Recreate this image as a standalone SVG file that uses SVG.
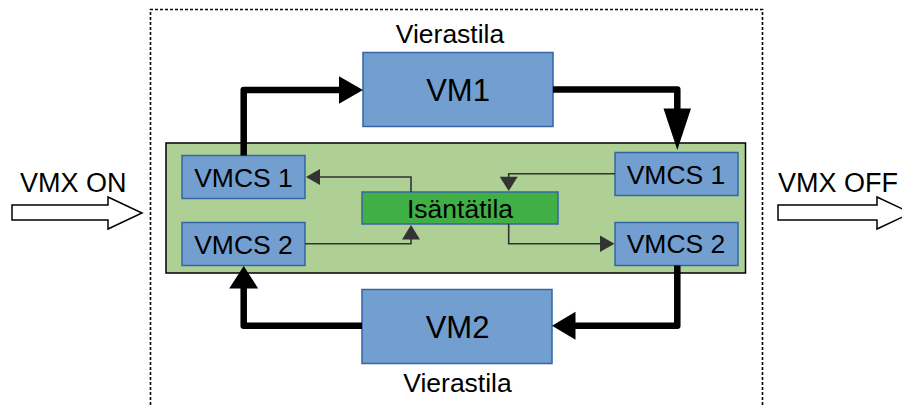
<svg xmlns="http://www.w3.org/2000/svg" width="902" height="407" viewBox="0 0 902 407">
  <style>
    text { font-family: "Liberation Sans", Arial, sans-serif; fill: #000; }
    .lbl { font-size: 26.5px; }
    .ext { font-size: 27px; }
    .big { font-size: 31px; }
    .vm { fill: #729fcf; stroke: #3465a4; stroke-width: 1.5; }
    .host { fill: #3faf46; stroke: #3465a4; stroke-width: 1.5; }
    .thick { fill: none; stroke: #000; stroke-width: 6.5; stroke-linejoin: round; }
    .thin { fill: none; stroke: #333; stroke-width: 1.6; }
    .head { fill: #000; }
    .thinhead { fill: #333; }
    .bigarrow { fill: #fff; stroke: #000; stroke-width: 1.5; }
  </style>

  <!-- VMX operation boundary -->
  <path d="M150.5,420 V9.5 H762.5 V420" fill="none" stroke="#000" stroke-width="1.6" stroke-dasharray="3 2"/>

  <!-- Enter / leave arrows -->
  <g id="vmx-on">
    <polygon class="bigarrow" points="12,205 108,205 108,197 142,213 108,229 108,220 12,220"/>
    <text class="ext" x="20" y="191.5">VMX ON</text>
  </g>
  <g id="vmx-off">
    <polygon class="bigarrow" points="778,205 877,205 877,197 911,213 877,229 877,220 778,220"/>
    <text class="ext" x="778" y="191.5">VMX OFF</text>
  </g>

  <!-- Host container -->
  <g id="host-area">
    <rect x="166" y="143" width="579.5" height="130" fill="#afd095" stroke="#000" stroke-width="1.5"/>
  </g>

  <g id="vm1">
    <rect class="vm" x="363" y="52.5" width="190" height="74"/>
    <text class="big" x="458" y="101" text-anchor="middle">VM1</text>
    <text class="lbl" x="450" y="43" text-anchor="middle">Vierastila</text>
  </g>

  <g id="vm2">
    <rect class="vm" x="362" y="289.5" width="190" height="74"/>
    <text class="big" x="457.5" y="337.5" text-anchor="middle">VM2</text>
    <text class="lbl" x="457.5" y="391.5" text-anchor="middle">Vierastila</text>
  </g>

  <g id="vmcs1-left">
    <rect class="vm" x="182" y="155.5" width="123" height="43"/>
    <text class="lbl" x="243.5" y="186.5" text-anchor="middle">VMCS 1</text>
  </g>
  <g id="vmcs2-left">
    <rect class="vm" x="182" y="222.5" width="123" height="43"/>
    <text class="lbl" x="243.5" y="253.5" text-anchor="middle">VMCS 2</text>
  </g>
  <g id="vmcs1-right">
    <rect class="vm" x="615" y="152.5" width="123" height="43"/>
    <text class="lbl" x="676" y="183.5" text-anchor="middle">VMCS 1</text>
  </g>
  <g id="vmcs2-right">
    <rect class="vm" x="615" y="222.5" width="123" height="43"/>
    <text class="lbl" x="676" y="252.5" text-anchor="middle">VMCS 2</text>
  </g>

  <g id="host-mode">
    <rect class="host" x="362" y="192" width="196" height="32"/>
    <text class="lbl" x="460" y="217.5" text-anchor="middle">Isäntätila</text>
  </g>

  <!-- Connectors -->
  <g id="connectors">
    <!-- VMCS 1 (left) to VM1 -->
    <path class="thick" d="M243.7,155.5 V90 H340"/>
    <polygon class="head" points="363,90 339,76.3 339,103.7"/>
    <!-- VM1 to VMCS 1 (right) -->
    <path class="thick" d="M553,89.5 H677.3 V110"/>
    <polygon class="head" points="677.3,150 663.5,108.5 691,108.5"/>
    <!-- VMCS 2 (right) to VM2 -->
    <path class="thick" d="M677.3,265.5 V325.7 H574"/>
    <polygon class="head" points="552,325.7 575.5,311.7 575.5,339.7"/>
    <!-- VM2 to VMCS 2 (left) -->
    <path class="thick" d="M362,325.7 H243.7 V287"/>
    <polygon class="head" points="243.7,266 229.2,288.5 258.2,288.5"/>

    <!-- host mode links -->
    <path class="thin" d="M411,192 V177 H319"/>
    <polygon class="thinhead" points="306,177 320,169 320,185"/>
    <path class="thin" d="M305,243.7 H411 V238"/>
    <polygon class="thinhead" points="411,225 402,239.5 420,239.5"/>
    <path class="thin" d="M615,173.7 H508.7 V178"/>
    <polygon class="thinhead" points="508.7,191 499.7,176.7 517.7,176.7"/>
    <path class="thin" d="M508.7,224 V243.7 H601"/>
    <polygon class="thinhead" points="614.5,243.7 600,235.4 600,252"/>
  </g>
</svg>
